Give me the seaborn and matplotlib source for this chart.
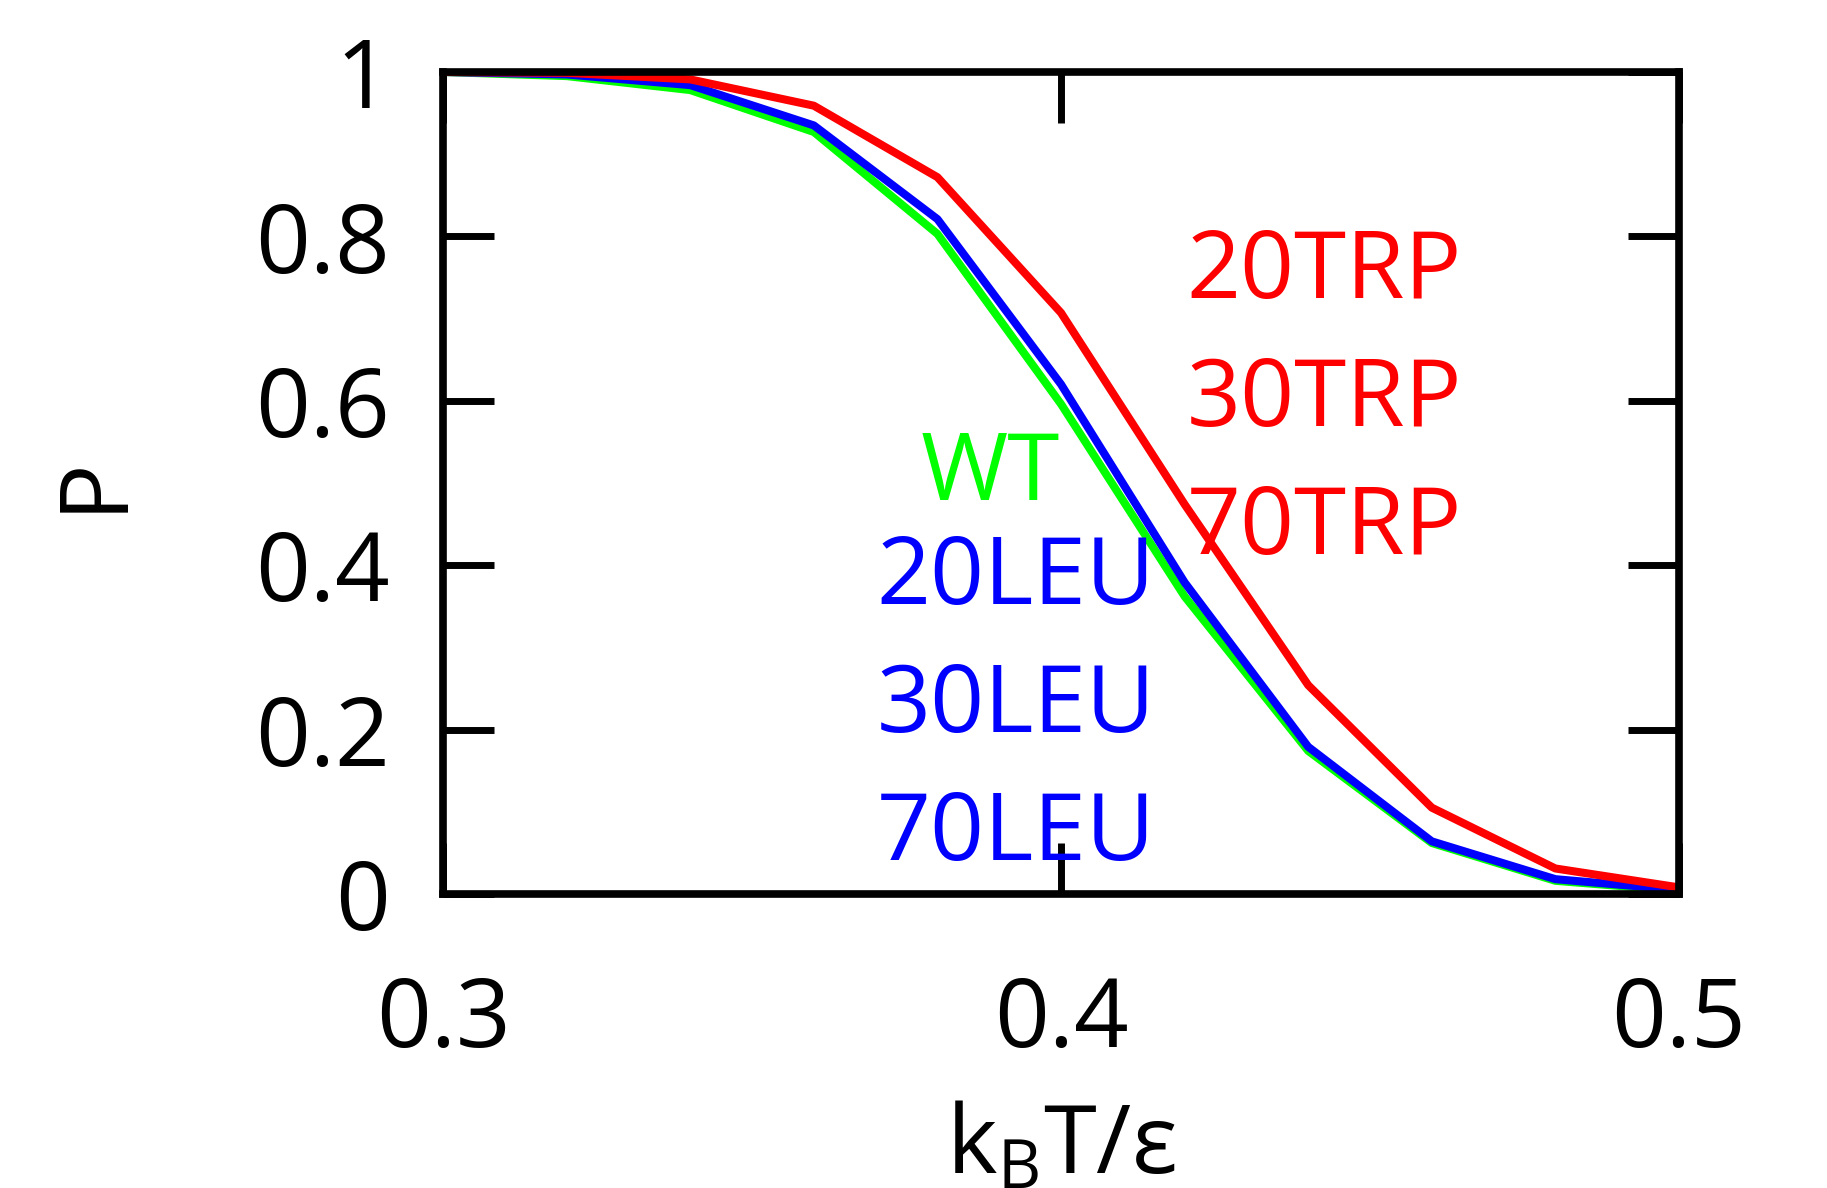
import matplotlib
matplotlib.use("Agg")
import matplotlib.pyplot as plt
import seaborn as sns
import pandas as pd

# ---- data ----
temps = [0.30, 0.32, 0.34, 0.36, 0.38, 0.40, 0.42, 0.44, 0.46, 0.48, 0.50]
p_wt  = [1.000, 0.995, 0.978, 0.927, 0.803, 0.596, 0.362, 0.174, 0.062, 0.016, 0.004]
p_leu = [1.000, 0.997, 0.984, 0.935, 0.821, 0.620, 0.379, 0.179, 0.064, 0.018, 0.005]
p_trp = [1.000, 0.999, 0.991, 0.959, 0.872, 0.707, 0.474, 0.254, 0.105, 0.031, 0.008]

groups = ["WT", "LEU", "TRP"]
colors = {"WT": "#00ff00", "LEU": "#0000ff", "TRP": "#ff0000"}
trp_labels = ["20TRP", "30TRP", "70TRP"]
leu_labels = ["20LEU", "30LEU", "70LEU"]
x_ticks = [0.3, 0.4, 0.5]
x_ticklabels = ["0.3", "0.4", "0.5"]
y_ticks = [0, 0.2, 0.4, 0.6, 0.8, 1]
y_ticklabels = ["0", "0.2", "0.4", "0.6", "0.8", "1"]

df = pd.concat([
    pd.DataFrame({"T": temps, "P": p_wt, "group": "WT"}),
    pd.DataFrame({"T": temps, "P": p_leu, "group": "LEU"}),
    pd.DataFrame({"T": temps, "P": p_trp, "group": "TRP"}),
])

sns.set_theme(style="white")
plt.rcParams["font.family"] = ["Open Sans", "DejaVu Sans"]
plt.rcParams["mathtext.default"] = "regular"

fig = plt.figure(figsize=(18.27, 11.88), dpi=100)
ax = fig.add_axes([0.2425, 0.2475, 0.919 - 0.2425, 0.9394 - 0.2475])

sns.lineplot(data=df, x="T", y="P", hue="group", hue_order=groups,
             palette=colors, linewidth=5.8, legend=False, ax=ax,
             estimator=None, sort=False)

ax.set_xlim(0.3, 0.5)
ax.set_ylim(0, 1)
ax.set_xticks(x_ticks)
ax.set_xticklabels(x_ticklabels)
ax.set_yticks(y_ticks)
ax.set_yticklabels(y_ticklabels)

for s in ax.spines.values():
    s.set_visible(True)
    s.set_color("black")
    s.set_linewidth(5.5)
    s.set_zorder(5)

ax.tick_params(axis="both", which="both", direction="in", length=37,
               width=5.0, color="black", top=True, right=True,
               left=True, bottom=True,
               labelsize=69, labelcolor="black")
ax.tick_params(axis="x", pad=58)
ax.tick_params(axis="y", pad=38)

ax.set_xlabel(r"k$_B$T/ε", fontsize=69, color="black")
ax.set_ylabel("P", fontsize=69, color="black")
ax.xaxis.set_label_coords(0.5, -0.252)
ax.yaxis.set_label_coords(-0.243, 0.5)

txt_size = 68
ax.text(0.3773, 0.509, "WT", color=colors["WT"], fontsize=txt_size,
        ha="left", va="center")
for lab, yy in zip(leu_labels, [0.383, 0.227, 0.071]):
    ax.text(0.3701, yy, lab, color=colors["LEU"], fontsize=txt_size,
            ha="left", va="center")
for lab, yy in zip(trp_labels, [0.755, 0.599, 0.443]):
    ax.text(0.4203, yy, lab, color=colors["TRP"], fontsize=txt_size,
            ha="left", va="center")

fig.savefig("out.png", dpi=100)
